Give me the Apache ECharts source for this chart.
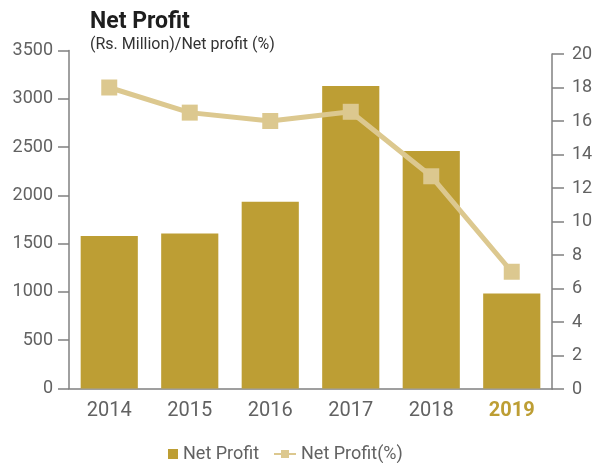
<!DOCTYPE html>
<html>
<head>
<meta charset="utf-8">
<script src="https://cdn.jsdelivr.net/npm/echarts@6/dist/echarts.min.js"></script>
<style>
  html, body { margin: 0; padding: 0; background: #fff; }
  #chart { width: 602px; height: 463px; }
</style>
</head>
<body>
<div id="chart"></div>
<script>
// Net profit in Rs. Million and net profit margin (%) by year
const years = ['2014', '2015', '2016', '2017', '2018', '2019'];
const netProfit = [1580, 1605, 1933, 3133, 2460, 983];
const netProfitPct = [18.0, 16.5, 16.0, 16.55, 12.7, 7.0];
const leftTicks = { min: 0, max: 3500, interval: 500 };
const rightTicks = { min: 0, max: 20, interval: 2 };

const FONT = 'Roboto';
const GOLD = '#BD9E34';
const SAND = '#DCC88F';
const AXIS = '#808080';
const LABEL = '#626262';

const highlightYear = '2019';
const categoryData = years.map(y => y === highlightYear
  ? { value: y, textStyle: { color: GOLD, fontWeight: 'bold' } }
  : y);

const chart = echarts.init(document.getElementById('chart'));
chart.setOption({
  animation: false,
  textStyle: { fontFamily: FONT },
  title: {
    text: 'Net Profit',
    subtext: '(Rs. Million)/Net profit (%)',
    left: 85,
    top: 6,
    itemGap: 3,
    textStyle: { fontFamily: FONT, fontSize: 23, fontWeight: 'bold', color: '#1e1e1e' },
    subtextStyle: { fontFamily: FONT, fontSize: 16, color: '#333333' }
  },
  legend: [
    {
      data: ['Net Profit'],
      left: 163, top: 440,
      icon: 'rect', itemWidth: 10, itemHeight: 10,
      textStyle: { fontFamily: FONT, fontSize: 18, color: LABEL }
    },
    {
      data: ['Net Profit(%)'],
      left: 268, top: 440,
      itemWidth: 22, itemHeight: 10,
      textStyle: { fontFamily: FONT, fontSize: 18, color: LABEL }
    }
  ],
  grid: [
    { left: 69, right: 50, top: 50.5, bottom: 74.5 },
    { left: 69, right: 50, top: 54, bottom: 74 }
  ],
  xAxis: [
    {
      type: 'category', gridIndex: 0, data: categoryData,
      axisLine: { lineStyle: { color: AXIS, width: 1.5 } },
      axisTick: { length: 8, lineStyle: { color: AXIS, width: 1.5 } },
      axisLabel: { fontFamily: FONT, fontSize: 20, color: LABEL, margin: 12 }
    },
    {
      type: 'category', gridIndex: 1, data: years, show: false
    }
  ],
  yAxis: [
    {
      type: 'value', gridIndex: 0,
      min: leftTicks.min, max: leftTicks.max, interval: leftTicks.interval,
      splitLine: { show: false },
      axisLine: { show: true, lineStyle: { color: AXIS, width: 1.5 } },
      axisTick: { show: true, length: 11, lineStyle: { color: AXIS, width: 1.5 } },
      axisLabel: {
        fontFamily: FONT, fontSize: 18, color: LABEL, margin: 16,
        formatter: v => String(v)
      }
    },
    {
      type: 'value', gridIndex: 1, position: 'right',
      min: rightTicks.min, max: rightTicks.max, interval: rightTicks.interval,
      splitLine: { show: false },
      axisLine: { show: true, lineStyle: { color: AXIS, width: 1.5 } },
      axisTick: { show: true, length: 12, lineStyle: { color: AXIS, width: 1.5 } },
      axisLabel: {
        fontFamily: FONT, fontSize: 18, color: LABEL, margin: 20,
        formatter: v => String(v)
      }
    }
  ],
  series: [
    {
      name: 'Net Profit', type: 'bar',
      xAxisIndex: 0, yAxisIndex: 0,
      data: netProfit,
      barCategoryGap: '29%',
      itemStyle: { color: GOLD }
    },
    {
      name: 'Net Profit(%)', type: 'line',
      xAxisIndex: 1, yAxisIndex: 1,
      data: netProfitPct,
      symbol: 'rect', symbolSize: 16,
      lineStyle: { color: SAND, width: 5 },
      itemStyle: { color: SAND },
      z: 5
    }
  ]
});
</script>
</body>
</html>
